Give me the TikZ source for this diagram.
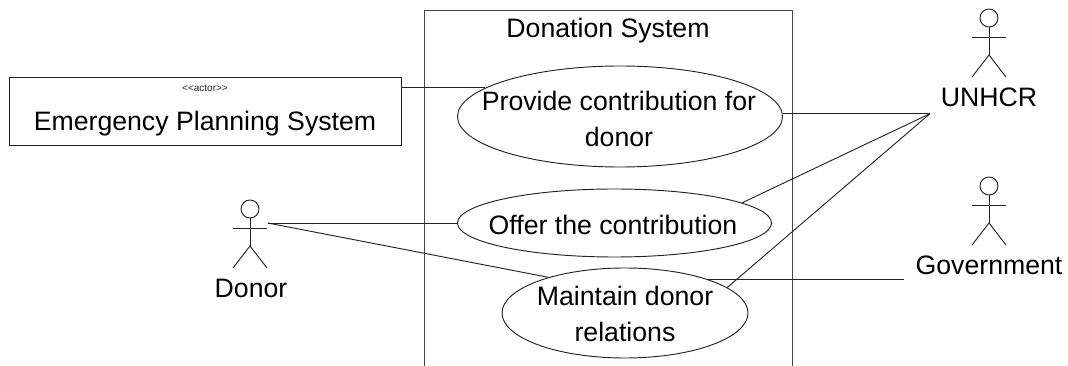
\documentclass[tikz,border=0pt]{standalone}
\usepackage{fontspec}
\setmainfont{Liberation Sans}
\usetikzlibrary{shapes.geometric}

\tikzset{
  line_uml/.style={color=uml_line,line width=0.7pt},
  usecase/.style={ellipse,draw=uml_line,line width=0.7pt,inner sep=0pt},
  label_uml/.style={align=center,inner sep=0pt,font=\fontsize{20}{27}\selectfont},
  actor/.pic={
    \draw[line_uml] (0,0) circle (9);
    \draw[line_uml] (0,9) -- (0,37);
    \draw[line_uml] (-17,19) -- (17,19);
    \draw[line_uml] (-17,59) -- (0,37) -- (17,59);
  }
}

\begin{document}
\begin{tikzpicture}[x=0.75pt,y=-0.75pt]

% ------------------------------------------------ colors
\definecolor{uml_line}{RGB}{35,35,35}
\definecolor{uml_frame}{RGB}{70,70,70}

\useasboundingbox (0,0) rectangle (1068,366);

% ------------------------------------------------ system frame
\draw [color=uml_frame,line width=0.7pt] (424,366) -- (424,10) -- (792,10) -- (792,366);
\node[label_uml] (system_txt) at (608,31) {Donation System};

% ------------------------------------------------ use cases
\node[usecase,minimum width=243.75pt,minimum height=75.75pt] (provide) at (620,116.5) {};
\node[usecase,minimum width=235.5pt,minimum height=51pt]  (offer)   at (614.5,223) {};
\node[usecase,minimum width=184.5pt,minimum height=67.5pt]  (maintain) at (625,313) {};

\node[label_uml] (provide_txt)  at (619,119) {Provide contribution for\\donor};
\node[label_uml] (offer_txt)    at (613,225) {Offer the contribution};
\node[label_uml] (maintain_txt) at (625,314) {Maintain donor\\relations};

% ------------------------------------------------ external system
\node[draw=uml_line,line width=0.7pt,minimum width=294pt,minimum height=51pt,inner sep=0pt] (emergency) at (205.5,111) {};
\node[inner sep=0pt,font=\fontsize{7.5}{9}\selectfont,color=uml_line] (emergency_st) at (205,88) {<{}<actor>{}>};
\node[label_uml] (emergency_txt) at (205,124) {Emergency Planning System};

% ------------------------------------------------ actors
\pic at (250,209) {actor};
\pic at (989,18)  {actor};
\pic at (989,186) {actor};

\node[label_uml] (donor_txt) at (251,288) {Donor};
\node[label_uml] (unhcr_txt) at (989,97)  {UNHCR};
\node[label_uml] (gov_txt)   at (989,265) {Government};

\coordinate (donor_end) at (267.7,223);
\coordinate (unhcr_end) at (930,0 |- provide.1.8);
\coordinate (gov_end)   at (903.5,0 |- maintain.22);
\coordinate (emergency_end) at (emergency.east |- provide.168.4);

% ------------------------------------------------ connectors
\draw [line_uml] (emergency_end) -- (provide.168.4);
\draw [line_uml] (donor_end) -- (offer.west);
\draw [line_uml] (donor_end) -- (maintain.155);
\draw [line_uml] (provide.1.8) -- (unhcr_end);
\draw [line_uml] (offer.9.5) -- (unhcr_end);
\draw [line_uml] (maintain.14.2) -- (unhcr_end);
\draw [line_uml] (maintain.22) -- (gov_end);

\end{tikzpicture}
\end{document}
